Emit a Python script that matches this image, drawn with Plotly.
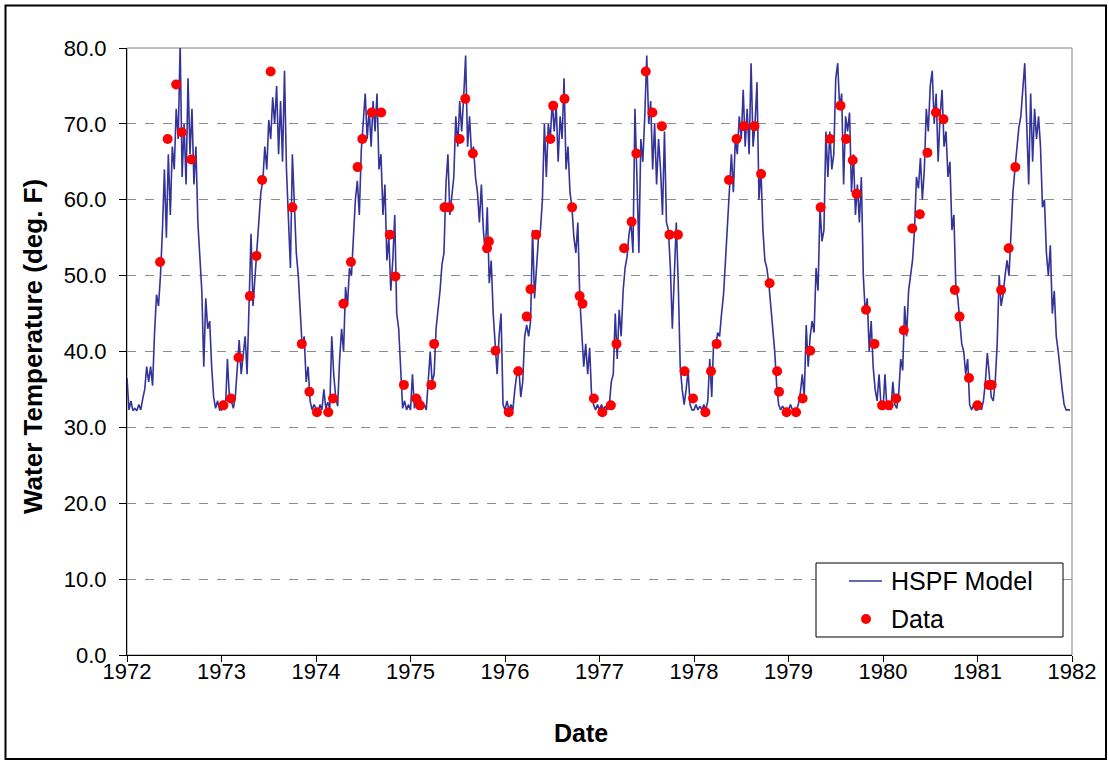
import plotly.graph_objects as go

# ---------------- data ----------------
years = list(range(1972, 1982))
tick_years = list(range(1972, 1983))

# HSPF model, ~weekly values (48 per year)
model_1972 = [36.5,32.3,33.5,32.2,32.5,32.2,33,32.3,33.8,35,38,36,38,35.5,42.5,47.5,46,50,56,64,55,66,58,67,64,72,68,80.5,63,70,62,76,66,72,62,67,57,53,48,38,47,43,44,38,34,32.5,33.5,32.3]
model_1973 = [32.3,33.5,32.5,39,34,33.5,32.5,34,38,41.5,37,40,42,37,47,55.5,46,50,52.5,57,61,62.5,67,64,70.5,68,73.5,70,75,66,73,65,77,64,56,51,66,58,53,50,45,40.5,42,36,38,33.5,32.3,33]
model_1974 = [32.5,32,33,32.3,35,32.5,33.3,32.5,42,37,34,32.8,39,43,40,48.5,46,51,50,55.5,60,62.5,58,66.5,70,74,68,72,67,73,69,74,64,66,58,62,52,55,48,52,58,45,43,37,32.5,33.5,32.3,33]
model_1975 = [32.3,37,32.5,33.5,32.3,34,32.5,33,32.3,36,40,36,37,43,45.5,48,51.5,53,62,66,58,61,63,71,67,73,69,73.5,79,67,71,66,67,63,61,57,62,56,53,59,49,52,45,41,37,42,45,33]
model_1976 = [32.3,33.5,32.3,33,32.3,35,37,38,34,36,42,43.5,42,44,56,47,51,55,56,60,70,63,70,68,73,69,72.5,65,71,68,76,64,67,61,59,55,53,57,47,42,38,41,37,40.5,34,33,32.3,33]
model_1977 = [32.3,33,32.3,32.8,32.3,33,36,37,45,39,45.5,42,48,51,52.5,55.5,57,53,72,63,53,68,65,71,79,70,73,64,70,62,68,64,58,69,57,56,51,43,49,57,49,38,35,33,35,37.5,33,32.3]
model_1978 = [32.3,33,32.3,32.8,32.3,33,32.3,33.5,39,34,41.5,40.5,42.5,42,45,47.5,52,57,62,66,61,68,66,71,68,74.5,67,72,66,78,67,70,75.5,60,64,56,52,51,49,46,43,40,35.5,33,32.3,32.8,32.3,32.5]
model_1979 = [32.3,33,32.3,32.5,32.3,33,34.5,37,34,43.5,38,42,44,42.5,51,48,59,54.5,56,69,63,69,64,66,76,78,72,74,62,71,69,71.5,61,66,58,62,57,63,50,45,47,40,44,38,35,33.5,37,32.8]
model_1980 = [32.3,37,32.5,33,32.3,36,33,32.5,34.5,39,37.5,46,42,48,50,52,56,63,61.5,65.5,60,64,72,69,75,77,70,74,65,71,74.5,67,69,63,65,56,58,48.5,47,44,41,40,37,39,33,32.3,33,32.3]
model_1981 = [32.3,32.8,32.3,33.5,36,39.8,37,34,33.5,36,41,50,46,47.5,50,52,50,55,61,64,67,69.5,71,74,78,70,62,74,65,72,68,71,67,59,60,53,50,54,45,48,42,40,37,35,33,32.3,32.3,32.3]

# Observed data (decimal year, deg F)
data_dates = [1972.35,1972.43,1972.52,1972.58,1972.68,
              1973.02,1973.10,1973.18,1973.30,1973.37,1973.43,1973.52,1973.75,1973.85,1973.93,
              1974.01,1974.13,1974.18,1974.29,1974.37,1974.44,1974.49,1974.59,1974.69,1974.78,1974.84,1974.93,
              1975.06,1975.10,1975.22,1975.25,1975.36,1975.41,1975.52,1975.58,1975.66,1975.81,1975.83,1975.90,
              1976.04,1976.14,1976.23,1976.27,1976.33,1976.48,1976.51,1976.63,1976.71,1976.79,1976.82,1976.94,
              1977.03,1977.12,1977.18,1977.26,1977.34,1977.39,1977.49,1977.56,1977.66,1977.74,1977.83,1977.90,1977.99,
              1978.12,1978.18,1978.24,1978.37,1978.45,1978.53,1978.64,1978.71,1978.80,1978.88,1978.90,1978.98,
              1979.08,1979.15,1979.23,1979.34,1979.44,1979.55,1979.61,1979.68,1979.72,1979.82,1979.91,1979.99,
              1980.06,1980.14,1980.22,1980.31,1980.39,1980.47,1980.56,1980.64,1980.76,1980.81,1980.91,
              1981.00,1981.12,1981.15,1981.25,1981.33,1981.40]
data_temps = [51.8,68.0,75.2,68.9,65.3,
              32.9,33.8,39.2,47.3,52.6,62.6,76.9,59.0,41.0,34.7,
              32.0,32.0,33.8,46.3,51.8,64.3,68.0,71.5,71.5,55.4,49.9,35.6,
              33.8,32.9,35.6,41.0,59.0,59.0,68.0,73.3,66.1,53.6,54.5,40.1,
              32.0,37.4,44.6,48.2,55.4,68.0,72.4,73.3,59.0,47.3,46.3,33.8,
              32.0,32.9,41.0,53.6,57.1,66.1,76.9,71.5,69.7,55.4,55.4,37.4,33.8,
              32.0,37.4,41.0,62.6,68.0,69.7,69.7,63.4,49.0,37.4,34.7,32.0,
              32.0,33.8,40.1,59.0,68.0,72.4,68.0,65.2,60.8,45.5,41.0,32.9,
              32.9,33.8,42.8,56.2,58.1,66.2,71.5,70.6,48.1,44.6,36.5,
              32.9,35.6,35.6,48.1,53.6,64.3]

series_names = ["HSPF Model", "Data"]
x_title = "Date"
y_title = "Water Temperature (deg. F)"

LINE_COLOR = "#333399"
DOT_COLOR = "#ff0000"

# ---------------- build model series ----------------
model_years = [model_1972, model_1973, model_1974, model_1975, model_1976,
               model_1977, model_1978, model_1979, model_1980, model_1981]
model_x, model_y = [], []
for yr, vals in zip(years, model_years):
    n = len(vals)
    for i, v in enumerate(vals):
        model_x.append(yr + i / n)
        model_y.append(v)

FONT = "Liberation Sans, Arial, sans-serif"

fig = go.Figure()
fig.add_trace(go.Scatter(
    x=model_x, y=model_y, mode="lines", name=series_names[0],
    line=dict(color=LINE_COLOR, width=1.6), showlegend=False))
fig.add_trace(go.Scatter(
    x=data_dates, y=data_temps, mode="markers", name=series_names[1],
    marker=dict(color=DOT_COLOR, size=10, line=dict(width=0)), showlegend=False))

W, H = 1109, 761
L, R, T, B = 127, 37, 48, 106
pw, ph = W - L - R, H - T - B

def px_x(p):
    return (p - L) / pw

def px_y(p):
    return (H - B - p) / ph

# legend box (drawn manually to match the reference layout)
leg_x0, leg_x1, leg_y0, leg_y1 = 816, 1063, 563, 637
row1, row2 = 581, 619
glyph_x0, glyph_x1, text_x = 849, 882, 889

shapes = [
    dict(type="rect", xref="paper", yref="paper", x0=0, x1=1, y0=0, y1=1,
         line=dict(color="#808080", width=1), layer="below"),
    dict(type="rect", xref="paper", yref="paper",
         x0=px_x(5.5), x1=px_x(1106), y0=px_y(759), y1=px_y(5.5),
         line=dict(color="black", width=2), layer="below"),
    dict(type="rect", xref="paper", yref="paper",
         x0=px_x(leg_x0), x1=px_x(leg_x1), y0=px_y(leg_y1), y1=px_y(leg_y0),
         line=dict(color="black", width=1), fillcolor="white", layer="above"),
    dict(type="line", xref="paper", yref="paper",
         x0=px_x(glyph_x0), x1=px_x(glyph_x1), y0=px_y(row1), y1=px_y(row1),
         line=dict(color=LINE_COLOR, width=1.6), layer="above"),
    dict(type="circle", xref="paper", yref="paper",
         x0=px_x(866 - 5), x1=px_x(866 + 5), y0=px_y(row2 + 5), y1=px_y(row2 - 5),
         line=dict(width=0), fillcolor=DOT_COLOR, layer="above"),
]

annotations = [
    dict(text=series_names[0], xref="paper", yref="paper", x=px_x(text_x), y=px_y(row1),
         xanchor="left", yanchor="middle", showarrow=False, font=dict(size=25)),
    dict(text=series_names[1], xref="paper", yref="paper", x=px_x(text_x), y=px_y(row2),
         xanchor="left", yanchor="middle", showarrow=False, font=dict(size=25)),
    dict(text="<b>%s</b>" % x_title, xref="paper", yref="paper", x=px_x(581), y=px_y(733),
         xanchor="center", yanchor="middle", showarrow=False, font=dict(size=25)),
    dict(text="<b>%s</b>" % y_title, xref="paper", yref="paper", x=px_x(33), y=px_y(347),
         xanchor="center", yanchor="middle", showarrow=False, textangle=-90,
         font=dict(size=26)),
]

fig.update_layout(
    width=W, height=H,
    margin=dict(l=L, r=R, t=T, b=B),
    paper_bgcolor="white", plot_bgcolor="white",
    font=dict(family=FONT, color="black", size=22),
    showlegend=False,
    xaxis=dict(range=[1972, 1982], tickvals=tick_years,
               ticktext=[str(y) for y in tick_years],
               ticks="outside", ticklen=6, tickcolor="black",
               showline=True, linecolor="black", linewidth=1,
               showgrid=False, zeroline=False,
               tickfont=dict(size=22), ticklabelstandoff=-9),
    yaxis=dict(range=[0, 80], dtick=10, tickformat=".1f",
               ticks="outside", ticklen=7, tickcolor="black",
               showline=True, linecolor="black", linewidth=1,
               showgrid=True, gridcolor="#8c8c8c", griddash="dash", gridwidth=1,
               zeroline=False, tickfont=dict(size=22), ticklabelstandoff=8),
    shapes=shapes,
    annotations=annotations,
)

fig.write_html("out.html", config={"displayModeBar": False})

with open("out.html", "r", encoding="utf-8") as f:
    html = f.read()
html = html.replace("<head>", "<head><style>html,body{margin:0;padding:0;overflow:hidden;}</style>", 1)
with open("out.html", "w", encoding="utf-8") as f:
    f.write(html)
